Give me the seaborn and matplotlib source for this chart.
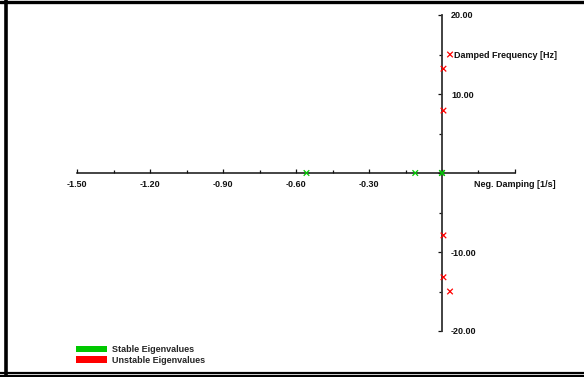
import pandas as pd
import seaborn as sns
from matplotlib import pyplot as plt
from matplotlib.patches import Patch
from matplotlib.lines import Line2D

# eigenvalues
stable_damping = [-0.557, -0.11, 0.0, 0.0]
stable_freq = [0.0, 0.0, 0.0, 0.0]
unstable_damping = [0.033, 0.006, 0.006, 0.006, 0.006, 0.033]
unstable_freq = [15.0, 13.2, 7.9, -7.9, -13.2, -15.0]

x_ticks = [-1.5, -1.2, -0.9, -0.6, -0.3, 0.0, 0.3]
x_labels = ['-1.50', '-1.20', '-0.90', '-0.60', '-0.30', '', 'Neg. Damping [1/s]']
x_minor = [-1.35, -1.05, -0.75, -0.45, -0.15, 0.15]
y_ticks = [-20, -10, 0, 10, 20]
y_labels = ['-20.00', '-10.00', '', '10.00', '20.00']
y_minor = [-15, -5, 5, 15]
y_minor_labels = ['', '', '', 'Damped Frequency [Hz]']

green = '#00c800'
red = '#ff0000'

df = pd.concat([
    pd.DataFrame({'damping': stable_damping, 'freq': stable_freq, 'kind': 'Stable Eigenvalues'}),
    pd.DataFrame({'damping': unstable_damping, 'freq': unstable_freq, 'kind': 'Unstable Eigenvalues'}),
])

sns.set_theme(style='white')
plt.rcParams['font.family'] = ['Liberation Sans', 'DejaVu Sans']
plt.rcParams['font.weight'] = 'bold'

W, H = 584, 377
fig = plt.figure(figsize=(W / 100, H / 100), dpi=100)
ax = fig.add_axes([0, 0, 1, 1])
ax.patch.set_alpha(0)

sns.scatterplot(data=df, x='damping', y='freq', hue='kind', marker='x', s=16,
                linewidth=0.9, palette={'Stable Eigenvalues': green, 'Unstable Eigenvalues': red},
                legend=False, ax=ax, zorder=5, clip_on=False)

# pixel placement of the origin and scale
x0, xs = 442, 243.3
y0, ys = 173, 7.9
ax.set_xlim(-x0 / xs, (W - x0) / xs)
ax.set_ylim(-(H - y0) / ys, y0 / ys)
ax.set_xlabel('')
ax.set_ylabel('')

for s in ['top', 'left']:
    ax.spines[s].set_visible(False)
ax.spines['bottom'].set_position(('data', 0))
ax.spines['bottom'].set_bounds(-1.5, 0.3)
ax.spines['bottom'].set_color('#111111')
ax.spines['bottom'].set_linewidth(1.1)
ax.yaxis.tick_right()
ax.spines['right'].set_position(('data', 0))
ax.spines['right'].set_bounds(-20, 20)
ax.spines['right'].set_color('#333333')
ax.spines['right'].set_linewidth(1.3)

ax.set_xticks(x_ticks)
ax.set_xticklabels(x_labels)
ax.set_xticks(x_minor, minor=True)
ax.set_yticks(y_ticks)
ax.set_yticklabels(y_labels)
ax.set_yticks(y_minor, minor=True)
ax.set_yticklabels(y_minor_labels, minor=True)

ax.tick_params(axis='x', which='both', direction='in', bottom=True, colors='#111111',
               labelsize=6.5, pad=5, width=0.9)
ax.tick_params(axis='x', which='major', length=3)
ax.tick_params(axis='x', which='minor', length=2)
ax.tick_params(axis='y', which='both', direction='in', right=True, left=False,
               labelsize=6.5, width=0.9, colors='#111111')
ax.tick_params(axis='y', which='major', length=3, pad=6.5)
ax.tick_params(axis='y', which='minor', length=2, pad=8.5)
for lab in ax.get_xticklabels() + ax.get_yticklabels() + ax.get_yticklabels(minor=True):
    lab.set_fontweight('bold')
# the axis name sits a little left of the last tick
ax.get_xticklabels()[-1].set_x(0.28)

handles = [Patch(facecolor=green, edgecolor='none', label='Stable Eigenvalues'),
           Patch(facecolor=red, edgecolor='none', label='Unstable Eigenvalues')]
leg = fig.legend(handles=handles, loc='upper left', bbox_to_anchor=(76 / W, 1 - 345 / H),
                 frameon=False, fontsize=6.5, handlelength=3.4, handleheight=0.75,
                 handletextpad=0.6, labelspacing=0.2, borderpad=0, borderaxespad=0)
for t in leg.get_texts():
    t.set_fontweight('bold')

# window frame
fig.add_artist(Line2D([6 / W, 6 / W], [0, 1], transform=fig.transFigure, color='black', lw=2.6))
fig.add_artist(Line2D([0, 1], [1 - 1.5 / H, 1 - 1.5 / H], transform=fig.transFigure, color='black', lw=2.4))
fig.add_artist(Line2D([0, 1], [1 - 372.5 / H, 1 - 372.5 / H], transform=fig.transFigure, color='black', lw=1.6))
fig.add_artist(Line2D([0, 1], [1 - 376 / H, 1 - 376 / H], transform=fig.transFigure, color='black', lw=1.6))

fig.savefig('out.png', dpi=100)
